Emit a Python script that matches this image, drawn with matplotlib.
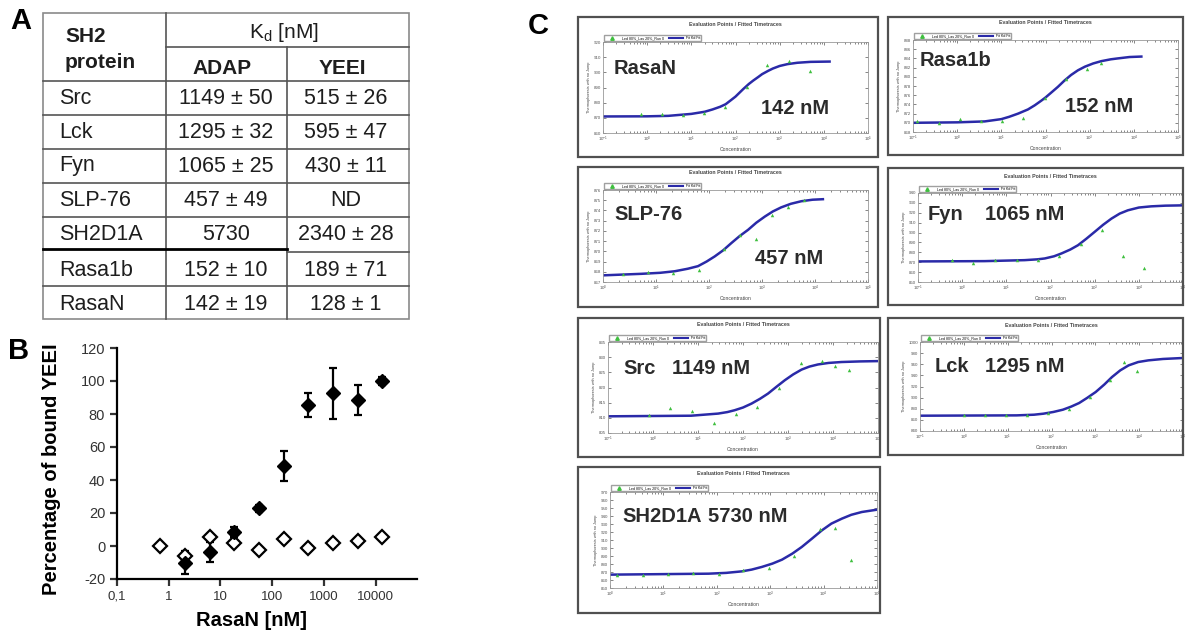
import numpy as np
import matplotlib as mpl
mpl.use('Agg')
import matplotlib.pyplot as plt
from matplotlib.patches import Rectangle
from matplotlib.lines import Line2D
from matplotlib.ticker import NullLocator, LogLocator

plt.rcParams['font.family'] = ['Liberation Sans', 'DejaVu Sans']
plt.rcParams['axes.unicode_minus'] = False

#=========================================================================
# Data
#=========================================================================
# panel A: Kd table
proteins = ['Src', 'Lck', 'Fyn', 'SLP-76', 'SH2D1A', 'Rasa1b', 'RasaN']
kd_adap = ['1149 \u00b1 50', '1295 \u00b1 32', '1065 \u00b1 25', '457 \u00b1 49',
           '5730', '152 \u00b1 10', '142 \u00b1 19']
kd_yeei = ['515 \u00b1 26', '595 \u00b1 47', '430 \u00b1 11', 'ND',
           '2340 \u00b1 28', '189 \u00b1 71', '128 \u00b1 1']

# panel B: percentage of bound YEEI vs RasaN
b_conc = [0.69, 2.06, 6.2, 18.5, 55.5, 167, 500, 1500, 4500, 13500]
b_filled = [-10, -3.4, 8.7, 22.8, 48.5, 85.5, 92.5, 88.3, 100]
b_filled_err = [7, 6, 3, 2, 9, 7.5, 15.5, 9, 2.5]
b_open = [0, -6, 5.5, 2, -2.4, 4, -1.4, 1.6, 3, 5.5]

# panel C: MST traces (points + fitted curve)
rasan_conc = [0.71, 2.17, 6.5, 19.5, 59, 178, 525, 1590, 4870]
rasan_sig = [872.2, 872.2, 871.8, 873.3, 877.0, 890.4, 904.9, 907.3, 900.7]
rasan_fit_conc = [0.1, 1, 3, 10, 20, 30, 45, 60, 80, 100, 150, 200, 250, 330,
                  400, 550, 700, 1000, 1500, 2500, 5000, 13500]
rasan_fit_sig = [870.9, 871.0, 871.3, 872.6, 874.0, 875.5, 877.3, 879.0, 881.8,
                 884.0, 889.0, 892.3, 894.5, 897.0, 898.8, 901.0, 902.5, 904.2,
                 905.4, 906.3, 906.9, 907.1]

rasa1b_conc = [0.125, 0.38, 1.13, 3.5, 10.2, 31, 96, 290, 890, 1780]
rasa1b_sig = [870.5, 870.0, 870.8, 870.3, 870.3, 871.1, 875.4, 879.5, 881.7, 883.1]
rasa1b_fit_conc = [0.1, 1, 4.2, 10, 15, 24, 40, 57, 80, 100, 140, 190, 270, 380,
                   540, 780, 1200, 1830, 3000, 4360, 8000, 14800]
rasa1b_fit_sig = [870.0, 870.1, 870.3, 870.8, 871.3, 872.0, 872.9, 873.8, 874.8,
                  875.5, 876.7, 877.8, 879.2, 880.4, 881.4, 882.2, 882.9, 883.4,
                  883.8, 884.0, 884.3, 884.4]

slp76_conc = [2.4, 7.1, 21, 64, 190, 390, 760, 1540, 3100, 6200]
slp76_sig = [867.75, 868.0, 867.9, 868.15, 870.2, 871.6, 871.2, 873.6, 874.3, 875.0]
slp76_fit_conc = [1, 5.3, 12, 22.5, 40, 62, 90, 128, 185, 263, 380, 545, 780,
                  1130, 1600, 2300, 3500, 5500, 9000, 14100]
slp76_fit_sig = [867.65, 867.8, 867.9, 868.05, 868.3, 868.55, 869.0, 869.5, 870.1,
                 870.8, 871.5, 872.1, 872.8, 873.4, 873.9, 874.3, 874.65, 874.9,
                 875.05, 875.1]

fyn_conc = [0.6, 1.8, 5.6, 17, 52, 156, 480, 1480, 4360, 13000]
fyn_sig = [872.1, 868.8, 872.1, 872.1, 872.1, 876.2, 888.9, 902.3, 876.5, 863.8]
fyn_fit_conc = [0.1, 3.2, 26, 50, 74, 120, 178, 280, 420, 650, 1000, 1550, 2400,
                3700, 5650, 10000, 19000, 40000, 100000]
fyn_fit_sig = [870.8, 871.1, 872.1, 872.9, 873.8, 876.0, 878.9, 882.8, 887.2,
               893.8, 900.7, 907.8, 914.1, 919.2, 922.5, 925.3, 926.5, 927.2, 927.5]

src_conc = [0.8, 2.4, 7.4, 23, 69, 205, 620, 1900, 5700, 11300, 22700]
src_sig = [810.8, 813.4, 812.1, 808.4, 811.2, 813.6, 819.9, 828.2, 828.7, 827.0, 825.9]
src_fit_conc = [0.1, 7, 28, 45, 65, 100, 155, 240, 360, 550, 850, 1300, 2000,
                3000, 4650, 8000, 15400, 40000, 100000]
src_fit_sig = [810.5, 810.7, 811.4, 811.9, 812.5, 813.4, 814.7, 816.3, 818.0,
               820.2, 822.4, 824.3, 825.9, 826.9, 827.6, 828.1, 828.4, 828.6, 828.7]

lck_conc = [1.0, 3.0, 9.1, 27, 83, 245, 740, 2200, 4400, 8800]
lck_sig = [868.1, 868.1, 868.1, 868.1, 872.3, 880.1, 901.1, 931.0, 964.0, 947.8]
lck_fit_conc = [0.1, 16, 40, 65, 110, 182, 280, 427, 650, 1020, 1600, 2400,
                3700, 5750, 9500, 16200, 35000, 91000]
lck_fit_sig = [867.5, 868.1, 869.3, 871.1, 874.2, 878.3, 883.8, 890.3, 899.5,
               910.1, 923.5, 937.0, 949.0, 958.0, 964.0, 967.0, 969.5, 971.1]

sh2d1a_conc = [1.33, 4.1, 12, 36, 108, 316, 960, 2800, 8400, 16600, 33000]
sh2d1a_sig = [865.8, 866.7, 867.9, 868.8, 867.9, 872.9, 875.4, 889.6, 924.2,
              925.0, 885.4]
sh2d1a_fit_conc = [1, 70, 150, 295, 450, 695, 1100, 1660, 2600, 3900, 6000, 9300,
                   14000, 22000, 33000, 52000, 100000]
sh2d1a_fit_sig = [866.7, 867.9, 868.9, 870.8, 873.0, 876.3, 880.5, 885.4, 893.0,
                  901.3, 911.5, 922.1, 930.5, 936.7, 941.5, 945.0, 947.9]

#=========================================================================
# Figure setup
#=========================================================================
W, H = 1185, 638
fig = plt.figure(figsize=(W / 100, H / 100), dpi=100)


def rect(l, t, r, b):
    return [l / W, 1 - b / H, (r - l) / W, (b - t) / H]


# overlay in pixel coords for table, frames and labels
ax0 = fig.add_axes([0, 0, 1, 1])
ax0.set_xlim(0, W)
ax0.set_ylim(H, 0)
ax0.axis('off')
ax0.set_zorder(10)

#=========================================================================
# Panel A
#=========================================================================
ax0.text(10, 21, 'A', fontsize=21, fontweight='bold', va='center')
lc = '#555555'
ax0.add_patch(Rectangle((43, 13), 366, 306, fill=False, ec='#8a8a8a', lw=1.2))
ax0.plot([166, 166], [13, 319], color=lc, lw=1.2)
ax0.plot([287, 287], [47, 319], color=lc, lw=1.2)
ax0.plot([166, 409], [47, 47], color=lc, lw=1.2)
for y in [81, 115, 149, 183, 217, 286]:
    ax0.plot([43, 409], [y, y], color=lc, lw=1.2)
ax0.plot([43, 287], [249, 249], color='k', lw=2)
ax0.plot([287, 409], [252, 252], color=lc, lw=1.2)

tc = '#1e1e1e'
ax0.text(65, 37, 'SH2', fontsize=15, fontweight='bold', va='center', color=tc)
ax0.text(65, 63, 'protein', fontsize=15, fontweight='bold', va='center', color=tc)
ax0.text(284, 32, r'K$_\mathregular{d}$ [nM]', fontsize=15, ha='center',
         va='center', color=tc)
ax0.text(222, 69, 'ADAP', fontsize=15, fontweight='bold', ha='center',
         va='center', color=tc)
ax0.text(342, 69, 'YEEI', fontsize=15, fontweight='bold', ha='center',
         va='center', color=tc)
row_y = [98, 132, 166, 200, 235, 270, 304]
for k, name in enumerate(proteins):
    ax0.text(59, row_y[k], name, fontsize=15.5, va='center', color=tc)
    ax0.text(226, row_y[k], kd_adap[k], fontsize=15.5, va='center',
             ha='center', color=tc)
    ax0.text(346, row_y[k], kd_yeei[k], fontsize=15.5, va='center',
             ha='center', color=tc)

#=========================================================================
# Panel B
#=========================================================================
ax0.text(8, 351, 'B', fontsize=21, fontweight='bold', va='center')
axB = fig.add_axes(rect(117, 348, 417, 579))
axB.errorbar(b_conc[1:], b_filled, yerr=b_filled_err, fmt='D', color='k',
             ms=7, capsize=3, elinewidth=1.6, capthick=1.6)
axB.plot(b_conc, b_open, 'D', mfc='white', mec='k', mew=1.6, ms=7)
axB.set_xscale('log')
axB.set_xlim(0.1, 63000)
axB.set_ylim(-20, 120)
axB.set_yticks(np.arange(-20, 121, 20))
axB.set_xticks([0.1, 1, 10, 100, 1000, 10000])
axB.set_xticklabels(['0,1', '1', '10', '100', '1000', '10000'])
axB.xaxis.set_minor_locator(NullLocator())
for s in ['top', 'right']:
    axB.spines[s].set_visible(False)
for s in ['left', 'bottom']:
    axB.spines[s].set_linewidth(1.6)
axB.tick_params(width=1.6, length=5, colors='#333333')
axB.tick_params(axis='y', labelsize=10.5)
axB.tick_params(axis='x', labelsize=9.5)
axB.set_ylabel('Percentage of bound YEEI', fontsize=14.5, fontweight='bold')
axB.set_xlabel('RasaN [nM]', fontsize=14.5, fontweight='bold')
axB.yaxis.set_label_coords(-0.185, 0.476)
axB.xaxis.set_label_coords(0.45, -0.14)

#=========================================================================
# Panel C
#=========================================================================
ax0.text(528, 26, 'C', fontsize=21, fontweight='bold', va='center')


def inset(box, axr, xlim, ylim, yticks, conc, sig, fconc, fsig):
    l, t, r, b = box
    ax0.add_patch(Rectangle((l, t), r - l, b - t, fill=False, ec='#505050', lw=1.6))
    ax = fig.add_axes(rect(*axr))
    ax.plot(fconc, fsig, color='#2a2aa8', lw=1.8, solid_joinstyle='round')
    ax.plot(conc, sig, '^', color='#3fbf3f', ms=2.5, mew=0)
    ax.set_xscale('log')
    ax.set_xlim(*xlim)
    ax.set_ylim(*ylim)
    ax.set_yticks(yticks)
    ax.xaxis.set_major_locator(LogLocator(base=10, numticks=10))
    ax.tick_params(which='both', direction='in', top=True, right=True,
                   labelsize=3.2, colors='#555555', length=2, width=0.5, pad=1.5)
    ax.tick_params(which='minor', length=1.2)
    for s in ax.spines.values():
        s.set_color('#999999')
        s.set_linewidth(0.6)
    ax.set_xlabel('Concentration', fontsize=3.6, color='#444444', labelpad=2)
    ax.set_ylabel('Thermophoresis with no Jump', fontsize=2.8, color='#444444',
                  labelpad=2)
    ax.text(0.5, 1.19, 'Evaluation Points / Fitted Timetraces', fontsize=3.8,
            fontweight='bold', color='#444444', ha='center', va='center',
            transform=ax.transAxes)
    handles = [Line2D([], [], ls='none', marker='^', color='#3fbf3f', ms=2.5),
               Line2D([], [], color='#2a2aa8', lw=1.5)]
    ax.legend(handles, ['Led 80%_Las 20%_Run 0', 'Fit Kd Fit'], ncol=2,
              loc='lower left', bbox_to_anchor=(0.0, 1.0), fontsize=2.6,
              frameon=True, fancybox=False, edgecolor='#888888',
              borderpad=0.25, handlelength=4, columnspacing=1.2,
              borderaxespad=0.3)
    return ax


inset((578, 17, 878, 157), (603, 42, 868, 133), (0.1, 1e5), (860, 920),
      np.arange(860, 921, 10), rasan_conc, rasan_sig, rasan_fit_conc, rasan_fit_sig)
inset((888, 17, 1183, 155), (913, 40, 1178, 132), (0.1, 1e5), (868, 888),
      np.arange(868, 889, 2), rasa1b_conc, rasa1b_sig, rasa1b_fit_conc, rasa1b_fit_sig)
inset((578, 167, 878, 307), (603, 190, 868, 282), (1, 1e5), (867, 876),
      np.arange(867, 877, 1), slp76_conc, slp76_sig, slp76_fit_conc, slp76_fit_sig)
inset((888, 168, 1183, 305), (918, 193, 1183, 282), (0.1, 1e5), (850, 940),
      np.arange(850, 941, 10), fyn_conc, fyn_sig, fyn_fit_conc, fyn_fit_sig)
inset((578, 318, 880, 457), (608, 342, 878, 433), (0.1, 1e5), (805, 835),
      np.arange(805, 836, 5), src_conc, src_sig, src_fit_conc, src_fit_sig)
inset((888, 318, 1183, 455), (920, 342, 1183, 431), (0.1, 1e5), (840, 1000),
      np.arange(840, 1001, 20), lck_conc, lck_sig, lck_fit_conc, lck_fit_sig)
inset((578, 467, 880, 613), (610, 492, 877, 588), (1, 1e5), (850, 970),
      np.arange(850, 971, 10), sh2d1a_conc, sh2d1a_sig, sh2d1a_fit_conc, sh2d1a_fit_sig)

lab = dict(fontsize=14.5, fontweight='bold', color='#2b2b2b', va='center')
ax0.text(614, 68, 'RasaN', **lab)
ax0.text(761, 108, '142 nM', **lab)
ax0.text(920, 60, 'Rasa1b', **lab)
ax0.text(1065, 107, '152 nM', **lab)
ax0.text(614, 214, 'SLP-76', **lab)
ax0.text(755, 259, '457 nM', **lab)
ax0.text(928, 215, 'Fyn', **lab)
ax0.text(985, 215, '1065 nM', **lab)
ax0.text(623, 368, 'Src', **lab)
ax0.text(672, 368, '1149 nM', **lab)
ax0.text(935, 366, 'Lck', **lab)
ax0.text(985, 366, '1295 nM', **lab)
ax0.text(622, 517, 'SH2D1A', **lab)
ax0.text(708, 517, '5730 nM', **lab)

fig.savefig('out.png', dpi=100)
